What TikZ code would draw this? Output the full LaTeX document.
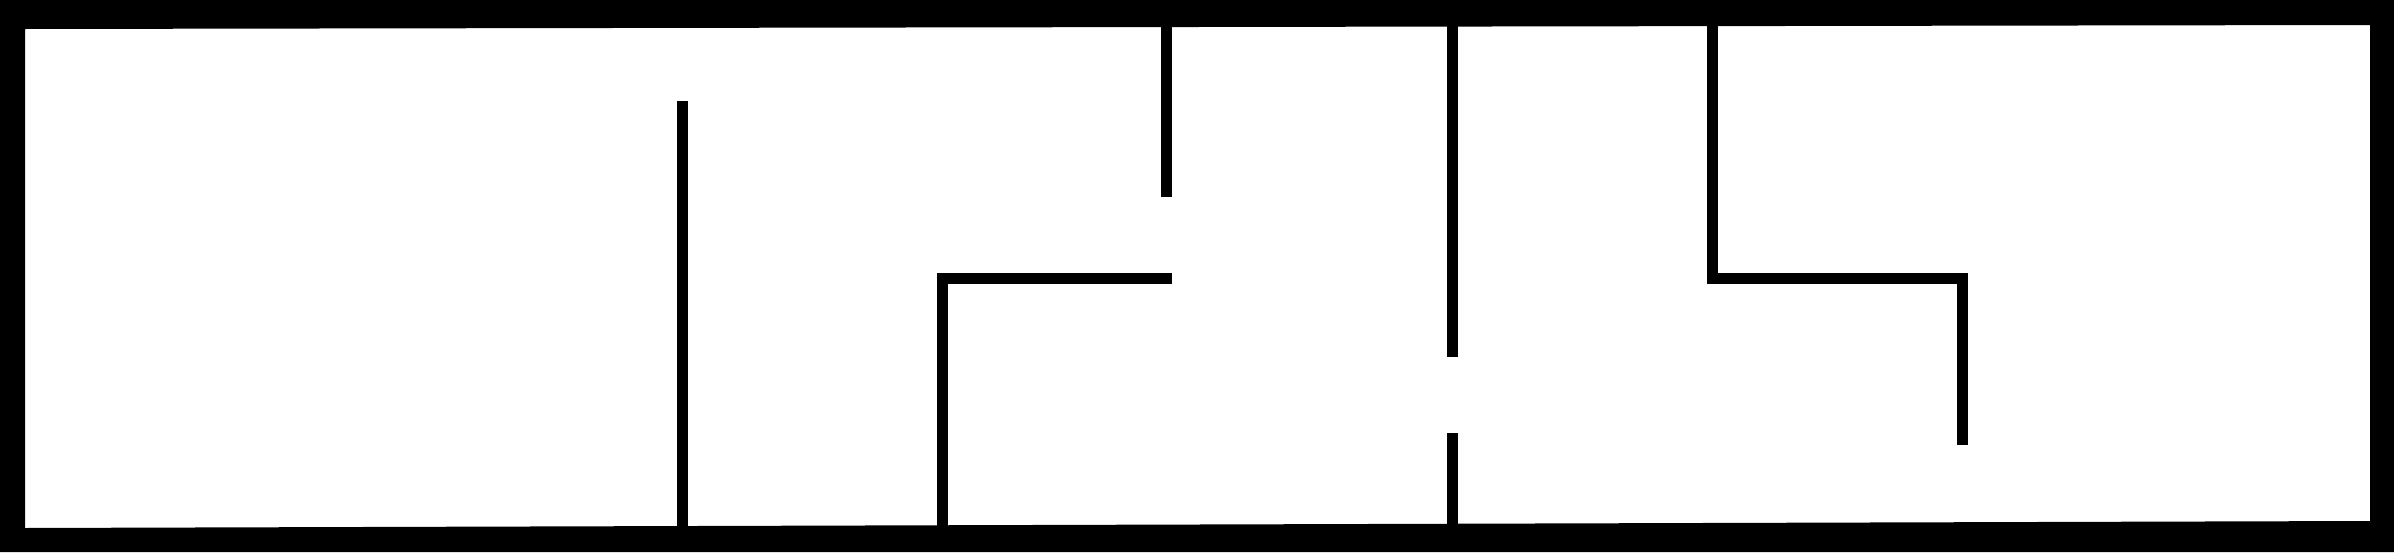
\documentclass[tikz,border=0pt]{standalone}
\begin{document}
\begin{tikzpicture}[x=1pt,y=-1pt,
  wall/.style={line width=11pt, line cap=butt, line join=miter, draw=black}]
\useasboundingbox (0,0) rectangle (2394,552);
% outer frame (inner edge very slightly skewed, as in the reference)
\fill[black, even odd rule] (0,0) rectangle (2394,552)
  (25,29) -- (2370,25) -- (2370,521) -- (25,528) -- cycle;
% interior walls
\draw[wall] (682.5,101) -- (682.5,530);
\draw[wall] (1166.5,20) -- (1166.5,197);
\draw[wall] (1172,278) -- (942.5,278) -- (942.5,530);
\draw[wall] (1452.5,20) -- (1452.5,357);
\draw[wall] (1452.5,433) -- (1452.5,530);
\draw[wall] (1712.5,20) -- (1712.5,278.5) -- (1962.5,278.5) -- (1962.5,445);
\end{tikzpicture}
\end{document}
